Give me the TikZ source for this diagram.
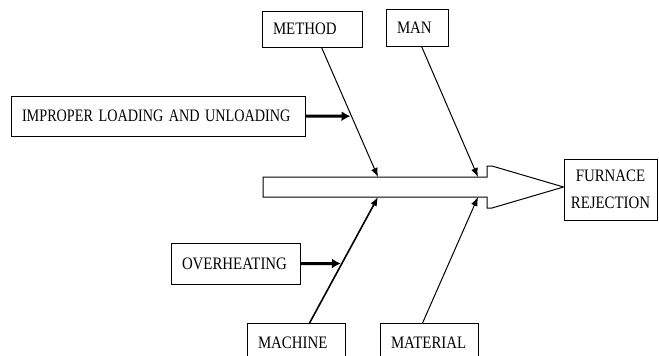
\documentclass[tikz,border=0pt]{standalone}
\usepackage{fontspec}
\usepackage{graphicx}
\newfontfamily\tnr[FakeStretch=0.85]{Liberation Serif}
\usetikzlibrary{arrows.meta,calc}
\begin{document}
\begin{tikzpicture}[x=1pt,y=-1pt,
  box/.style={draw, line width=0.9pt, font=\tnr\fontsize{17.5}{27}\selectfont,
    inner sep=0pt, inner xsep=11pt, align=left},
  thinarrow/.style={line width=1pt, -{Latex[length=9pt,width=7pt]}},
  thickarrow/.style={line width=3pt, -{Latex[length=9pt,width=10pt]}},
  bigarrow/.style={draw, line width=1pt, line join=miter}]
\useasboundingbox (0,0) rectangle (659,356);

% boxes
\node[box, text width=78pt, minimum height=36pt] (method) at (312,29) {\mbox{METHOD}};
\node[box, text width=40pt, minimum height=37pt] (man) at (417,27.5) {\mbox{MAN}};
\node[box, text width=272pt, minimum height=40pt] (imp) at (158,116) {\scalebox{0.955}[1]{IMPROPER LOADING AND UNLOADING}};
\node[box, text width=107pt, minimum height=41pt] (over) at (235.5,263.5) {\mbox{OVERHEATING}};
\node[box, text width=76pt, minimum height=38pt, anchor=north] (machine) at (296,323) {\mbox{MACHINE}};
\node[box, text width=76pt, minimum height=38pt, anchor=north] (material) at (429,323) {\mbox{MATERIAL}};
\node[box, minimum width=93pt, minimum height=61pt, inner xsep=4pt, align=center] (furnace) at (610.5,189.5) {FURNACE\\REJECTION};

% main block arrow (spine)
\coordinate (tip) at (furnace.west |- 0,187);
\draw[bigarrow] (263,177) -- (487,177) -- (487,166) -- (492,166) -- (tip)
  -- (492,208) -- (487,208) -- (487,197) -- (263,197) -- cycle;

% points on the spine
\coordinate (mT) at (378,177);
\coordinate (nT) at (478,177);
\coordinate (cB) at (378,197);
\coordinate (tB) at (478,197);

% bones
\coordinate (mS) at ([xshift=60pt]method.south west);
\coordinate (nS) at ([xshift=36pt]man.south west);
\coordinate (cS) at ([xshift=63pt]machine.north west);
\coordinate (tS) at ([xshift=43pt]material.north west);

\draw[thinarrow] (mS) -- (mT);
\draw[thinarrow] (nS) -- (nT);
\draw[thinarrow, line width=1.6pt] (cS) -- (cB);
\draw[thinarrow] (tS) -- (tB);

% sub-causes
\coordinate (j1) at ($(mS)!{(116-47)/130}!(mT)$);
\coordinate (j2) at ($(cS)!{(323-263.5)/126}!(cB)$);
\draw[thickarrow] (imp.east) -- ([xshift=-1pt]j1);
\draw[thickarrow] (over.east) -- ([xshift=-1pt]j2);
\end{tikzpicture}
\end{document}
